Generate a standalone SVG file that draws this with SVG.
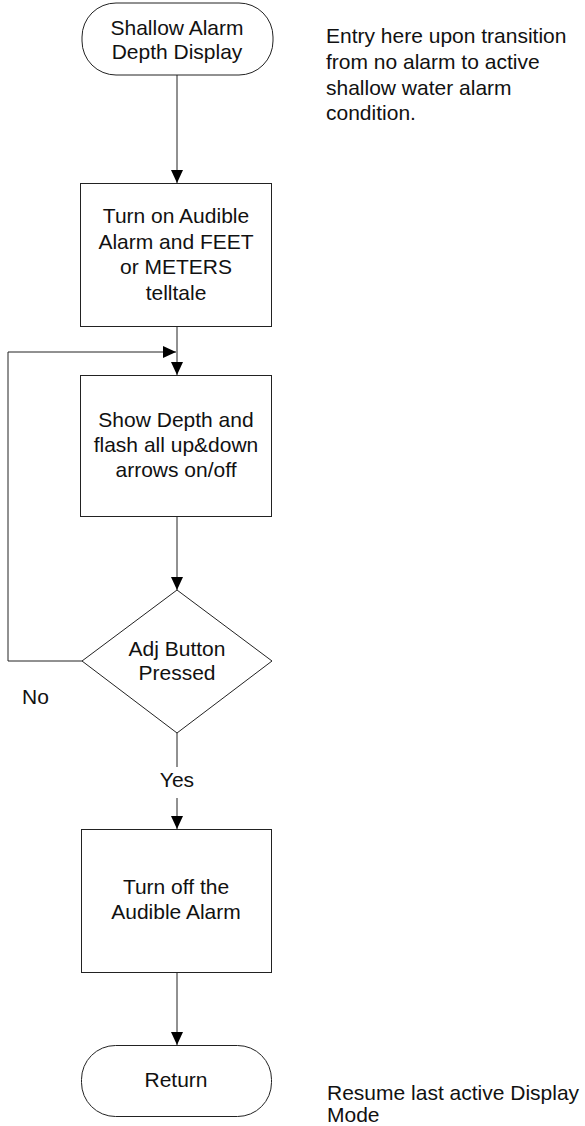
<svg xmlns="http://www.w3.org/2000/svg" width="585" height="1126" viewBox="0 0 585 1126">
  <style>
    .shape { fill: #fff; stroke: #222; stroke-width: 1; }
    .wire { fill: none; stroke: #222; stroke-width: 1; }
    text { font-family: "Liberation Sans", Arial, sans-serif; font-size: 21px; fill: #111; }
    .c { text-anchor: middle; }
  </style>
  <defs>
    <marker id="arrow" markerUnits="userSpaceOnUse" markerWidth="13" markerHeight="13" viewBox="0 0 13 13" refX="13" refY="6.5" orient="auto">
      <path d="M0,0.5 L13,6.5 L0,12.5 Z" fill="#000"/>
    </marker>
  </defs>

  <!-- connectors -->
  <g id="connectors">
    <line class="wire" x1="177" y1="75" x2="177" y2="183" marker-end="url(#arrow)"/>
    <line class="wire" x1="177" y1="327" x2="177" y2="375" marker-end="url(#arrow)"/>
    <polyline class="wire" points="82,661 8,661 8,352 176,352" marker-end="url(#arrow)"/>
    <line class="wire" x1="177" y1="517" x2="177" y2="590" marker-end="url(#arrow)"/>
    <line class="wire" x1="177" y1="733" x2="177" y2="767"/>
    <line class="wire" x1="177" y1="798" x2="177" y2="829" marker-end="url(#arrow)"/>
    <line class="wire" x1="177" y1="973" x2="177" y2="1045" marker-end="url(#arrow)"/>
    <text x="22" y="704">No</text>
    <text class="c" x="177" y="787">Yes</text>
  </g>

  <!-- start terminator -->
  <g id="start">
    <rect class="shape" x="82" y="3" width="191" height="72" rx="34" ry="34"/>
    <text class="c" x="177" y="35">Shallow Alarm</text>
    <text class="c" x="177" y="59">Depth Display</text>
  </g>

  <g id="alarm-on">
    <rect class="shape" x="80.5" y="183.5" width="191" height="143"/>
    <text class="c" x="176" y="223">Turn on Audible</text>
    <text class="c" x="176" y="248.5">Alarm and FEET</text>
    <text class="c" x="176" y="274">or METERS</text>
    <text class="c" x="176" y="299.5">telltale</text>
  </g>

  <g id="show-depth">
    <rect class="shape" x="80.5" y="375.5" width="191" height="141"/>
    <text class="c" x="176" y="427">Show Depth and</text>
    <text class="c" x="176" y="452">flash all up&amp;down</text>
    <text class="c" x="176" y="477">arrows on/off</text>
  </g>

  <g id="adj-pressed">
    <polygon class="shape" points="177,590 272,661 177,733 82,661"/>
    <text class="c" x="177" y="656">Adj Button</text>
    <text class="c" x="177" y="680">Pressed</text>
  </g>

  <g id="alarm-off">
    <rect class="shape" x="81.5" y="829.5" width="190" height="143"/>
    <text class="c" x="176" y="894">Turn off the</text>
    <text class="c" x="176" y="919">Audible Alarm</text>
  </g>

  <g id="return">
    <rect class="shape" x="81.5" y="1045.5" width="190" height="71" rx="34" ry="34"/>
    <text class="c" x="176" y="1087">Return</text>
  </g>

  <!-- side notes -->
  <g id="entry-note">
    <text x="326" y="43">Entry here upon transition</text>
    <text x="326" y="69">from no alarm to active</text>
    <text x="326" y="95">shallow water alarm</text>
    <text x="326" y="120">condition.</text>
  </g>
  <g id="return-note">
    <text x="327" y="1100">Resume last active Display</text>
    <text x="327" y="1122">Mode</text>
  </g>
</svg>
